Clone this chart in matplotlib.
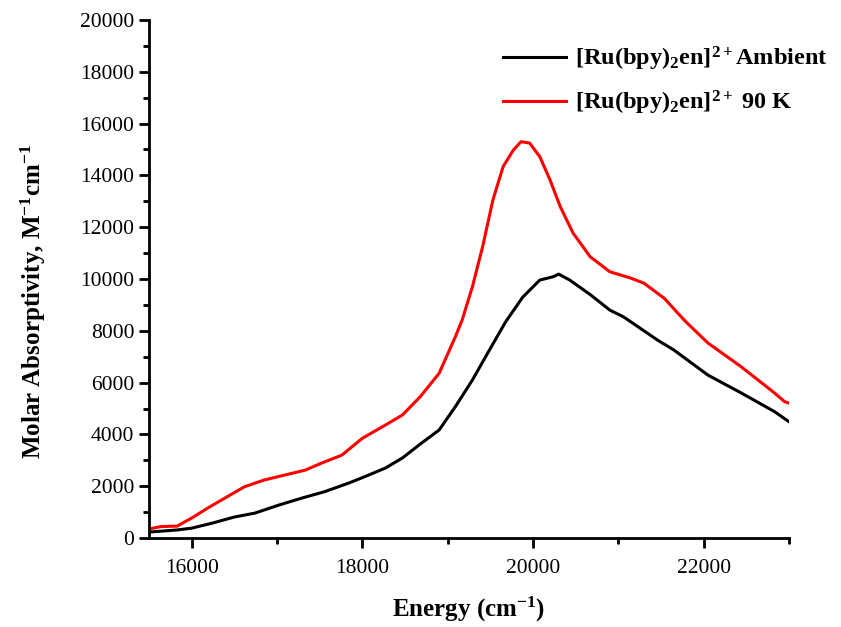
import matplotlib
matplotlib.use("Agg")
import matplotlib.pyplot as plt
from matplotlib.ticker import MultipleLocator

plt.rcParams['font.family'] = ['Liberation Serif', 'DejaVu Serif']
plt.rcParams['mathtext.fontset'] = 'custom'
plt.rcParams['mathtext.rm'] = 'Liberation Serif:bold'
plt.rcParams['mathtext.it'] = 'Liberation Serif:bold'
plt.rcParams['mathtext.bf'] = 'Liberation Serif:bold'

# Ambient spectrum (energy cm^-1, molar absorptivity)
amb_x = [15500, 15830, 16000, 16260, 16500, 16740, 17020, 17290, 17560, 17840,
         18000, 18270, 18470, 18680, 18900, 19090, 19290, 19490, 19680, 19880,
         20080, 20240, 20300, 20430, 20670, 20900, 21060, 21460, 21650, 22050,
         22440, 22830, 23000]
amb_y = [230, 310, 380, 590, 810, 960, 1270, 1540, 1790, 2120,
         2330, 2700, 3090, 3630, 4170, 5070, 6100, 7260, 8350, 9300,
         9960, 10090, 10190, 9960, 9400, 8800, 8540, 7640, 7260, 6290,
         5600, 4880, 4490]

# 90 K spectrum
k90_x = [15500, 15640, 15830, 16000, 16190, 16420, 16620, 16850, 17090, 17330,
         17520, 17760, 18000, 18270, 18470, 18680, 18900, 19090, 19170, 19290,
         19410, 19530, 19650, 19770, 19860, 19960, 20080, 20200, 20320, 20470,
         20670, 20900, 21140, 21300, 21540, 21770, 21850, 22050, 22440, 22830,
         22950, 23000]
k90_y = [350, 440, 460, 770, 1160, 1600, 1980, 2240, 2430, 2620,
         2890, 3200, 3850, 4360, 4750, 5460, 6360, 7770, 8420, 9700,
         11250, 13050, 14340, 14980, 15300, 15250, 14720, 13820, 12790, 11770,
         10860, 10280, 10040, 9840, 9250, 8420, 8160, 7530, 6610, 5600,
         5260, 5210]

fig = plt.figure(figsize=(8.41, 6.27), dpi=100)
ax = fig.add_axes([149/841, (627-538)/627, (789-149)/841, (538-20)/627])

ax.plot(amb_x, amb_y, color='black', lw=2.2,
        label=r'[Ru(bpy)$_2$en]$^{2+}$Ambient')
ax.plot(k90_x, k90_y, color='#ff0000', lw=2.2,
        label=r'[Ru(bpy)$_2$en]$^{2+}$ 90 K')

ax.set_xlim(15500, 23000)
ax.set_ylim(0, 20000)
ax.xaxis.set_major_locator(MultipleLocator(2000))
ax.xaxis.set_minor_locator(MultipleLocator(1000))
ax.yaxis.set_major_locator(MultipleLocator(2000))
ax.yaxis.set_minor_locator(MultipleLocator(1000))

for s in ['top', 'right']:
    ax.spines[s].set_visible(False)
for s in ['left', 'bottom']:
    ax.spines[s].set_linewidth(2)

ax.tick_params(which='major', direction='out', length=7, width=2, labelsize=15.5)
ax.tick_params(which='minor', direction='out', length=4, width=2)
ax.tick_params(axis='x', pad=8)

ax.set_xlabel(r'Energy (cm$^{-1}$)', fontsize=18, fontweight='bold', labelpad=12)
ax.set_ylabel(r'Molar Absorptivity, M$^{-1}$cm$^{-1}$', fontsize=18,
              fontweight='bold')
ax.yaxis.set_label_coords(-0.158, 0.4575)

leg = ax.legend(loc='upper left', bbox_to_anchor=(0.553, 0.953), frameon=False,
                prop={'weight': 'bold', 'size': 17.5}, handlelength=2.6,
                handletextpad=0.35, labelspacing=0.67, borderpad=0,
                borderaxespad=0)

fig.savefig('out.png', dpi=100)
